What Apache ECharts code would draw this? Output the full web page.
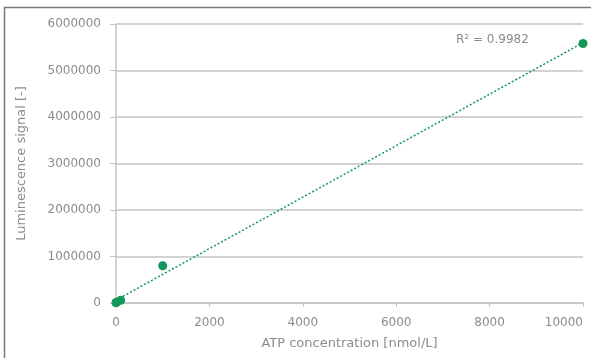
<!DOCTYPE html>
<html>
<head>
<meta charset="utf-8">
<script src="https://cdn.jsdelivr.net/npm/echarts@6/dist/echarts.min.js"></script>
<style>
  html, body { margin: 0; padding: 0; background: #fff; }
  #chart { width: 591px; height: 358px; }
</style>
</head>
<body>
<div id="chart"></div>
<script>
// ATP concentration [nmol/L] vs luminescence signal
const atpConc = [0, 10, 100, 1000, 10000]
const signal = [5000, 15000, 60000, 800000, 5580000]
const rSquaredLabel = 'R² = 0.9982'
const xTicks = [0, 2000, 4000, 6000, 8000, 10000]
const yTicks = [0, 1000000, 2000000, 3000000, 4000000, 5000000, 6000000]

// linear trendline (least squares) through the measured points
const n = atpConc.length
const mx = atpConc.reduce((a, b) => a + b, 0) / n
const my = signal.reduce((a, b) => a + b, 0) / n
let sxy = 0
let sxx = 0
for (let i = 0; i < n; i++) {
  sxy += (atpConc[i] - mx) * (signal[i] - my)
  sxx += (atpConc[i] - mx) ** 2
}
const slope = sxy / sxx
const intercept = my - slope * mx
const trendX = [xTicks[0], xTicks[xTicks.length - 1]]
const trendLine = trendX.map(x => [x, intercept + slope * x])

const textColor = '#8c8c8c'
const gridColor = '#c4c4c4'
const green = '#14985a'
const fontFamily = '"DejaVu Sans", "Noto Sans", sans-serif'

const chart = echarts.init(document.getElementById('chart'))
chart.setOption({
  animation: false,
  grid: { left: 116, right: 8, top: 24, bottom: 55, outerBoundsMode: 'none', containLabel: false },
  graphic: [{
    type: 'polyline',
    shape: { points: [[4.5, 358], [4.5, 7.5], [591, 7.5]] },
    style: { stroke: '#7a7a7a', lineWidth: 1.5, fill: null }
  }, {
    type: 'text',
    left: 456,
    top: 34,
    style: { text: rSquaredLabel, fill: textColor, font: '12px ' + fontFamily }
  }],
  xAxis: {
    type: 'value',
    min: xTicks[0],
    max: xTicks[xTicks.length - 1],
    interval: 2000,
    name: 'ATP concentration [nmol/L]',
    nameLocation: 'middle',
    nameGap: 34,
    nameTextStyle: { color: textColor, fontSize: 13, fontFamily },
    axisLine: { show: true, lineStyle: { color: gridColor, width: 1.5 } },
    axisTick: { show: true, length: 4, lineStyle: { color: gridColor } },
    axisLabel: {
      color: textColor, fontSize: 12, fontFamily, margin: 14,
      alignMaxLabel: 'right', formatter: v => String(v)
    },
    splitLine: { show: false }
  },
  yAxis: {
    type: 'value',
    min: yTicks[0],
    max: yTicks[yTicks.length - 1],
    interval: 1000000,
    name: 'Luminescence signal [-]',
    nameLocation: 'middle',
    nameGap: 88,
    nameTextStyle: { color: textColor, fontSize: 13, fontFamily },
    axisLine: { show: true, lineStyle: { color: gridColor, width: 1.5 } },
    axisTick: { show: true, length: 6, lineStyle: { color: gridColor } },
    axisLabel: { color: textColor, fontSize: 12, fontFamily, margin: 15, formatter: v => String(v) },
    splitLine: { show: true, lineStyle: { color: gridColor, width: 1.5 } }
  },
  series: [{
    type: 'line',
    data: trendLine,
    symbol: 'none',
    lineStyle: { color: green, width: 1.5, type: [2, 2] },
    z: 2
  }, {
    type: 'scatter',
    data: atpConc.map((x, i) => [x, signal[i]]),
    symbolSize: 9,
    itemStyle: { color: green, opacity: 1 },
    z: 3
  }]
})
</script>
</body>
</html>
